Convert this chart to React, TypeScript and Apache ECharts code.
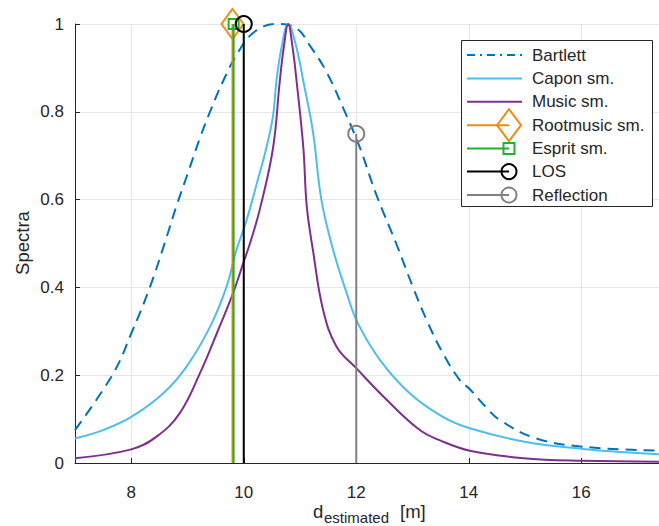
import React, { useEffect, useRef } from "react";
import * as echarts from "echarts";

// ---- data ----
const bartlettX = [7, 7.68, 8.0, 8.33, 8.63, 8.8, 9.0, 9.22, 9.4, 9.63, 9.87, 10.17, 10.58, 10.94, 11.17, 11.47, 11.77, 12.06, 12.36, 12.71, 13.01, 13.25, 13.54, 13.84, 14.02, 14.3, 14.55, 15.2, 16.03, 17.38];
const bartlettY = [0.075, 0.204, 0.295, 0.40, 0.515, 0.584, 0.658, 0.74, 0.80, 0.869, 0.929, 0.98, 1.0, 0.99, 0.952, 0.891, 0.808, 0.72, 0.61, 0.50, 0.40, 0.326, 0.25, 0.189, 0.168, 0.128, 0.098, 0.056, 0.037, 0.028];

const caponX = [7, 7.5, 8.0, 8.57, 8.98, 9.4, 9.69, 9.87, 10.05, 10.25, 10.4, 10.52, 10.58, 10.67, 10.79, 10.94, 11.06, 11.23, 11.38, 11.59, 11.83, 12.03, 12.42, 12.95, 13.54, 14.02, 14.97, 16.03, 17.38];
const caponY = [0.056, 0.075, 0.105, 0.159, 0.219, 0.31, 0.40, 0.485, 0.553, 0.645, 0.717, 0.79, 0.869, 0.945, 1.0, 0.945, 0.869, 0.755, 0.60, 0.485, 0.387, 0.318, 0.235, 0.159, 0.105, 0.079, 0.049, 0.032, 0.02];

const musicX = [7, 8.0, 8.45, 8.86, 9.22, 9.52, 9.81, 9.99, 10.11, 10.29, 10.52, 10.64, 10.71, 10.79, 10.87, 10.94, 11.06, 11.12, 11.23, 11.41, 11.65, 12.0, 12.54, 13.13, 13.48, 14.02, 14.97, 16.03, 17.38];
const musicY = [0.011, 0.031, 0.06, 0.113, 0.204, 0.295, 0.387, 0.455, 0.50, 0.58, 0.717, 0.869, 0.945, 1.0, 0.945, 0.869, 0.717, 0.585, 0.485, 0.349, 0.265, 0.216, 0.144, 0.075, 0.052, 0.028, 0.011, 0.005, 0.003];

const stemNames = ["Rootmusic sm.", "Esprit sm.", "LOS", "Reflection"];
const stemX = [9.8, 9.82, 10.0, 12.0];
const stemY = [1, 1, 1, 0.75];

const curveNames = ["Bartlett", "Capon sm.", "Music sm."];
const yTicks = [0, 0.2, 0.4, 0.6, 0.8, 1];

const FONT = "'Liberation Sans', Arial, Helvetica, sans-serif";
const C_BART = "#0072BD";
const C_CAPON = "#4DBEEE";
const C_MUSIC = "#7E2F8E";
const C_ROOT = "#F28A14";
const C_ESPRIT = "#22B02E";
const C_LOS = "#000000";
const C_REFL = "#808080";
const AXIS = "#262626";

export default function App() {
  const ref = useRef<HTMLDivElement>(null);
  useEffect(() => {
    if (!ref.current) return;
    const chart = echarts.init(ref.current, undefined, { renderer: "svg" });

    const curve = (name: string, xs: number[], ys: number[], color: string, dash: any) => ({
      type: "line",
      name,
      data: xs.map((x, i) => [x, ys[i]]),
      symbol: "none",
      showSymbol: false,
      smooth: 0.4,
      lineStyle: { color, width: 2, type: dash },
      z: 2,
    });

    const stemSymbols = ["diamond", "rect", "circle", "circle"];
    const stemSizes: any[] = [[22, 30], 10, 16, 16];
    const stemColors = [C_ROOT, C_ESPRIT, C_LOS, C_REFL];

    const stems = stemNames.map((name, i) => ({
      type: "line",
      name,
      clip: false,
      data: [
        { value: [stemX[i], 0], symbol: "none" },
        { value: [stemX[i], stemY[i]], symbol: stemSymbols[i], symbolSize: stemSizes[i] },
      ],
      showSymbol: true,
      lineStyle: { color: stemColors[i], width: 2 },
      itemStyle: { color: "rgba(0,0,0,0)", borderColor: stemColors[i], borderWidth: 2 },
      z: 3 + i,
    }));

    // legend drawn as graphics
    const rowY = [55, 78.5, 101.8, 125.2, 148.4, 171.6, 195];
    const lx1 = 467, lx2 = 522, mx = 509, tx = 532;
    const leg: any[] = [
      {
        type: "rect",
        shape: { x: 461.5, y: 40.5, width: 191, height: 166 },
        style: { fill: "#fff", stroke: AXIS, lineWidth: 1 },
        z: 100,
      },
    ];
    const legNames = [...curveNames, ...stemNames];
    const legColors = [C_BART, C_CAPON, C_MUSIC, C_ROOT, C_ESPRIT, C_LOS, C_REFL];
    legNames.forEach((n, i) => {
      const y = rowY[i];
      const isStem = i >= 3;
      leg.push({
        type: "line",
        shape: { x1: lx1, y1: y, x2: isStem ? mx : lx2, y2: y },
        style: {
          stroke: legColors[i],
          lineWidth: 2,
          lineDash: i === 0 ? [8, 5, 2, 5] : null,
        },
        z: 101,
      });
      leg.push({
        type: "text",
        x: tx,
        y: y,
        style: {
          text: n,
          font: `17px ${FONT}`,
          fill: AXIS,
          align: "left",
          verticalAlign: "middle",
        },
        z: 101,
      });
    });
    // legend markers
    leg.push({
      type: "polygon",
      shape: { points: [[mx, rowY[3] - 16], [mx + 12, rowY[3]], [mx, rowY[3] + 16], [mx - 12, rowY[3]]] },
      style: { fill: "none", stroke: C_ROOT, lineWidth: 2 },
      z: 102,
    });
    leg.push({
      type: "rect",
      shape: { x: mx - 5.5, y: rowY[4] - 5.5, width: 11, height: 11 },
      style: { fill: "none", stroke: C_ESPRIT, lineWidth: 2 },
      z: 102,
    });
    leg.push({
      type: "circle",
      shape: { cx: mx, cy: rowY[5], r: 7.5 },
      style: { fill: "none", stroke: C_LOS, lineWidth: 2 },
      z: 102,
    });
    leg.push({
      type: "circle",
      shape: { cx: mx, cy: rowY[6], r: 7.5 },
      style: { fill: "none", stroke: C_REFL, lineWidth: 2 },
      z: 102,
    });

    // axis titles
    const titles: any[] = [
      {
        type: "text",
        x: 22,
        y: 243,
        rotation: Math.PI / 2,
        style: { text: "Spectra", font: `18.5px ${FONT}`, fill: AXIS, align: "center", verticalAlign: "middle" },
      },
      {
        type: "text",
        x: 313,
        y: 511.5,
        style: { text: "d", font: `18.5px ${FONT}`, fill: AXIS, align: "left", verticalAlign: "middle" },
      },
      {
        type: "text",
        x: 324,
        y: 517.5,
        style: { text: "estimated", font: `15px ${FONT}`, fill: AXIS, align: "left", verticalAlign: "middle" },
      },
      {
        type: "text",
        x: 400,
        y: 511.5,
        style: { text: "[m]", font: `18.5px ${FONT}`, fill: AXIS, align: "left", verticalAlign: "middle" },
      },
    ];

    chart.setOption({
      animation: false,
      backgroundColor: "#ffffff",
      textStyle: { fontFamily: FONT },
      grid: { left: 75, right: 0, top: 24, bottom: 63, containLabel: false },
      xAxis: {
        type: "value",
        min: 7,
        max: 7 + 584 / 56.25,
        splitNumber: 5,
        axisLine: { show: true, lineStyle: { color: AXIS, width: 1 } },
        axisTick: { show: true, inside: true, length: 5, lineStyle: { color: AXIS } },
        axisLabel: {
          show: true,
          showMinLabel: false,
          showMaxLabel: false,
          color: AXIS,
          fontSize: 17,
          fontFamily: FONT,
          margin: 21,
        },
        splitLine: { show: true, lineStyle: { color: "#E6E6E6", width: 1 } },
      },
      yAxis: {
        type: "value",
        min: yTicks[0],
        max: yTicks[yTicks.length - 1],
        interval: 0.2,
        axisLine: { show: true, lineStyle: { color: AXIS, width: 1 } },
        axisTick: { show: true, inside: true, length: 5, lineStyle: { color: AXIS } },
        axisLabel: {
          color: AXIS,
          fontSize: 17,
          fontFamily: FONT,
          margin: 11,
          formatter: (v: number) => String(Math.round(v * 10) / 10),
        },
        splitLine: { show: true, lineStyle: { color: "#E6E6E6", width: 1 } },
      },
      series: [
        curve(curveNames[0], bartlettX, bartlettY, C_BART, [11, 7]),
        curve(curveNames[1], caponX, caponY, C_CAPON, "solid"),
        curve(curveNames[2], musicX, musicY, C_MUSIC, "solid"),
        ...stems,
      ],
      graphic: [...titles, ...leg],
    });

    return () => chart.dispose();
  }, []);

  return (
    <div
      ref={ref}
      style={{ position: "fixed", left: 0, top: 0, width: 659, height: 526, background: "#fff" }}
    />
  );
}
